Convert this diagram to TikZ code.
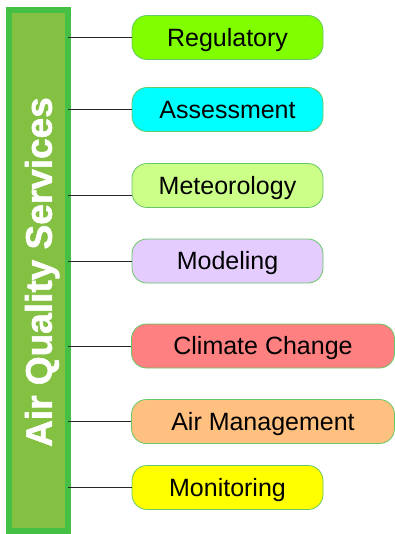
\documentclass[tikz,border=0pt]{standalone}
\usepackage{fontspec}
\setmainfont{Liberation Sans}
\newfontfamily\titlefont{Liberation Sans}[UprightFont={* Bold}, FakeBold=1.5]
\definecolor{barborder}{HTML}{44C044}
\definecolor{barfill}{HTML}{84C042}
\definecolor{boxborder}{HTML}{66C866}
\definecolor{cReg}{HTML}{80FF00}
\definecolor{cAss}{HTML}{00FFFF}
\definecolor{cMet}{HTML}{CCFF88}
\definecolor{cMod}{HTML}{E4CCFF}
\definecolor{cCli}{HTML}{FF8080}
\definecolor{cAir}{HTML}{FFC080}
\definecolor{cMon}{HTML}{FFFF00}
\begin{document}
\begin{tikzpicture}[x=1pt,y=-1pt,
  svcbox/.style={draw=boxborder, line width=0.8pt, rounded corners=15pt,
    minimum width=191pt, minimum height=44pt, inner sep=0pt,
    text height=17.5pt, text depth=0pt,
    font=\fontsize{25}{28}\selectfont},
  widebox/.style={svcbox, minimum width=263pt},
  link/.style={draw=black!85, line width=1pt}]
\useasboundingbox (0,0) rectangle (395,534);
\draw[draw=barborder, fill=barfill, line width=6pt] (9,10) rectangle (67.5,531);
\node[rotate=90, text=white, font=\titlefont\fontsize{37}{40}\selectfont,
  inner sep=0pt, text height=26.5pt, text depth=0pt] (title) at (38.5,272) {Air Quality Services};
\coordinate (bar) at (68,0);
\node[svcbox, fill=cReg] (reg) at (227.5,37.5) {Regulatory};
\node[svcbox, fill=cAss] (ass) at (227.5,109.5) {Assessment};
\node[svcbox, fill=cMet] (met) at (227.5,185.5) {Meteorology};
\node[svcbox, fill=cMod] (mod) at (227.5,261) {Modeling};
\node[widebox, fill=cCli] (cli) at (263,346) {Climate Change};
\node[widebox, fill=cAir] (air) at (263,421.5) {Air Management};
\node[svcbox, fill=cMon] (mon) at (227.5,487.5) {Monitoring};
\coordinate (metin) at ([yshift=-10.5pt]met.west);
\draw[link] (bar |- reg.west) -- (reg.west);
\draw[link] (bar |- ass.west) -- (ass.west);
\draw[link] (bar |- metin) -- (metin);
\draw[link] (bar |- mod.west) -- (mod.west);
\draw[link] (bar |- cli.west) -- (cli.west);
\draw[link] (bar |- air.west) -- (air.west);
\draw[link] (bar |- mon.west) -- (mon.west);
\end{tikzpicture}
\end{document}
